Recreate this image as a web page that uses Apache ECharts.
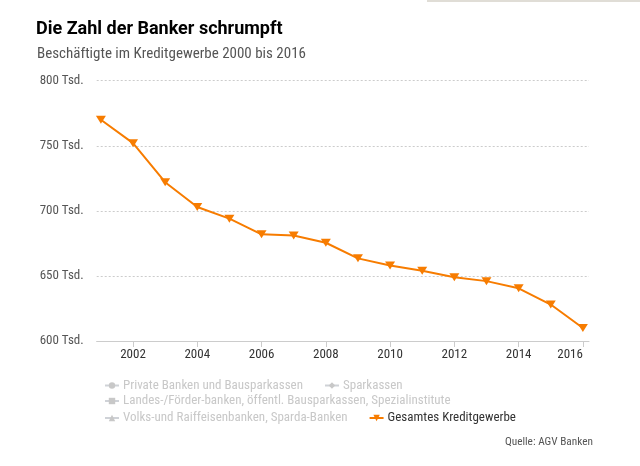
<!DOCTYPE html>
<html>
<head>
<meta charset="utf-8">
<script src="https://cdn.jsdelivr.net/npm/echarts@6/dist/echarts.min.js"></script>
<style>
html,body{margin:0;padding:0;background:#fff;}
#c{width:640px;height:466px;}
</style>
</head>
<body>
<div id="c"></div>
<script>
const years = [2001,2002,2003,2004,2005,2006,2007,2008,2009,2010,2011,2012,2013,2014,2015,2016];
const gesamt = [770,752,722,703,694,682,681,675.5,663.5,658,654,649,646,640.5,628,610];
const xTicks = [2002,2004,2006,2008,2010,2012,2014,2016];
const yTicks = [600,650,700,750,800];
const seriesNames = [
  'Private Banken und Bausparkassen',
  'Sparkassen',
  'Landes-/Förder-banken, öffentl. Bausparkassen, Spezialinstitute',
  'Volks-und Raiffeisenbanken, Sparda-Banken',
  'Gesamtes Kreditgewerbe'
];

const FONT = "'Roboto Condensed','Open Sans Condensed',sans-serif";
const orange = '#f77c00';
const triDown = 'path://M0,0 L10,0 L5,8 Z';

const chart = echarts.init(document.getElementById('c'), null, {renderer:'canvas'});

const legendBase = {
  orient:'horizontal',
  itemWidth:14, itemHeight:8, itemGap:21,
  textStyle:{fontFamily:FONT, fontSize:13, color:'#333', padding:[0,0,0,-1]},
  inactiveColor:'#c8c8c8',
  padding:0,
  left:104
};

const option = {
  animation:false,
  title:[
    {text:'Die Zahl der Banker schrumpft', left:36, top:20, padding:0,
     textStyle:{fontFamily:"Roboto,sans-serif", fontSize:18, fontWeight:'bold', color:'#000'}},
    {text:'Beschäftigte im Kreditgewerbe 2000 bis 2016', left:37, top:46.5, padding:0,
     textStyle:{fontFamily:FONT, fontSize:15, fontWeight:'normal', color:'#555'}},
    {text:'Quelle: AGV Banken', right:47, top:436.5, padding:0,
     textStyle:{fontFamily:FONT, fontSize:11.3, fontWeight:'normal', color:'#555'}}
  ],
  graphic:[
    {type:'line', shape:{x1:427,y1:1,x2:640,y2:1}, style:{stroke:'#d6d2c8', lineWidth:1.5}}
  ],
  legend:[
    Object.assign({}, legendBase, {top:379, data:[seriesNames[0], seriesNames[1]],
      selected:{[seriesNames[0]]:false,[seriesNames[1]]:false}}),
    Object.assign({}, legendBase, {top:394.5, data:[seriesNames[2]],
      selected:{[seriesNames[2]]:false}}),
    Object.assign({}, legendBase, {top:411.5, data:[seriesNames[3], seriesNames[4]],
      selected:{[seriesNames[3]]:false}})
  ],
  grid:{left:96.7, right:51, top:80.7, bottom:125, containLabel:false},
  xAxis:{
    type:'value', min:2000.87, max:2016.19,
    axisLine:{show:true, lineStyle:{color:'#ccc', width:1}},
    axisTick:{show:true, customValues:xTicks, length:6, lineStyle:{color:'#ccc'}},
    axisLabel:{customValues:xTicks, formatter:v=>String(v), fontFamily:FONT, fontSize:13, color:'#333', margin:7, alignMaxLabel:'right'},
    splitLine:{show:false}
  },
  yAxis:{
    type:'value', min:600, max:800, interval:50,
    axisLine:{show:false}, axisTick:{show:false},
    axisLabel:{customValues:yTicks, formatter:'{value} Tsd.', fontFamily:FONT, fontSize:13, color:'#555', margin:13},
    splitLine:{show:true, lineStyle:{color:'#ccc', type:[2,2], width:1}}
  },
  series:[
    {name:seriesNames[0], type:'line', data:[], symbol:'circle', itemStyle:{color:'#7cb5ec'}},
    {name:seriesNames[1], type:'line', data:[], symbol:'diamond', itemStyle:{color:'#434348'}},
    {name:seriesNames[2], type:'line', data:[], symbol:'rect', itemStyle:{color:'#90ed7d'}},
    {name:seriesNames[3], type:'line', data:[], symbol:'triangle', itemStyle:{color:'#f7a35c'}},
    {name:seriesNames[4], type:'line',
     data:years.map((y,i)=>[y,gesamt[i]]),
     symbol:triDown, symbolSize:[10,8], showAllSymbol:true,
     lineStyle:{color:orange, width:2},
     itemStyle:{color:orange}}
  ]
};
chart.setOption(option);
</script>
</body>
</html>
